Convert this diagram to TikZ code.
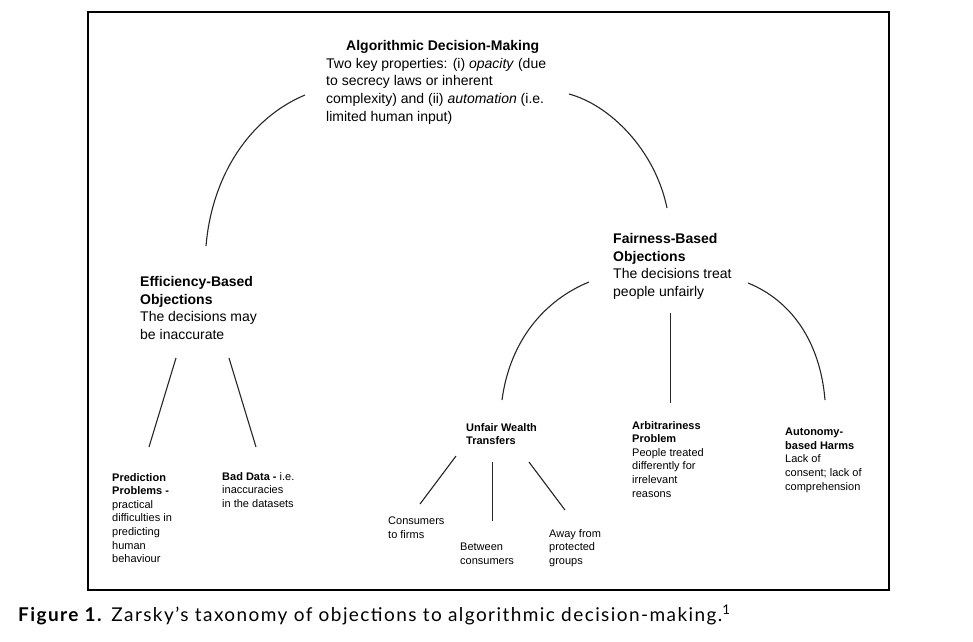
\documentclass[tikz,border=0pt]{standalone}
\usepackage{fontspec}
\setmainfont{Liberation Sans}
\newfontfamily\capfont{Lato}[LetterSpace=7.5]
\begin{document}
\begin{tikzpicture}[x=1pt,y=-1pt,
  big/.style={font=\fontsize{14}{17.7}\selectfont, align=left, anchor=north west, inner sep=0pt},
  small/.style={font=\fontsize{11}{13.6}\selectfont, align=left, anchor=north west, inner sep=0pt},
  conn/.style={line width=1.1pt, black!85}]
\useasboundingbox (0,0) rectangle (973,641);
\draw[line width=1.8pt] (88,12) rectangle (889,590);

\node[big] (adm) at (326,40) {\hspace*{20pt}\textbf{Algorithmic Decision-Making}\\Two key properties: (i) \textit{opacity} (due\\to secrecy laws or inherent\\complexity) and (ii) \textit{automation} (i.e.\\limited human input)};
\node[big] (eff) at (140,276) {\textbf{Efficiency-Based}\\\textbf{Objections}\\The decisions may\\be inaccurate};
\node[big] (fair) at (613,233) {\textbf{Fairness-Based}\\\textbf{Objections}\\The decisions treat\\people unfairly};

\node[small] (pred) at (112,473) {\textbf{Prediction}\\\textbf{Problems -}\\practical\\difficulties in\\predicting\\human\\behaviour};
\node[small] (bad) at (222,472) {\textbf{Bad Data -} i.e.\\inaccuracies\\in the datasets};
\node[small] (uwt) at (466,423) {\textbf{Unfair Wealth}\\\textbf{Transfers}};
\node[small] (ctf) at (388,517) {Consumers\\to firms};
\node[small] (btw) at (460,543) {Between\\consumers};
\node[small] (away) at (549,529) {Away from\\protected\\groups};
\node[small] (arb) at (632,421) {\textbf{Arbitrariness}\\\textbf{Problem}\\People treated\\differently for\\irrelevant\\reasons};
\node[small] (aut) at (785,428) {\textbf{Autonomy-}\\\textbf{based Harms}\\Lack of\\consent; lack of\\comprehension};

% connector end points
\coordinate (a1) at (305,95);   \coordinate (e1) at (206,246);
\coordinate (a2) at (569,94);   \coordinate (f1) at (667,208);
\coordinate (f2) at (589,282);  \coordinate (u1) at (502,400);
\coordinate (f3) at (670.5,313);  \coordinate (r1) at (670.5,403);
\coordinate (f4) at (748,283);  \coordinate (t1) at (825,400);
\coordinate (e2) at (176,358);  \coordinate (p1) at (149,447);
\coordinate (e3) at (229,358);  \coordinate (b1) at (256,447);
\coordinate (u2) at (456,456);  \coordinate (c1) at (420,504);
\coordinate (u3) at (492.5,462);  \coordinate (c2) at (492.5,521);
\coordinate (u4) at (529,462);  \coordinate (c3) at (565,510);

\draw[conn] (a1) .. controls (250,118) and (212,175) .. (e1);
\draw[conn] (a2) .. controls (610,105) and (655,150) .. (f1);
\draw[conn] (f2) .. controls (545,300) and (510,340) .. (u1);
\draw[conn] (f3) -- (r1);
\draw[conn] (f4) .. controls (790,300) and (820,340) .. (t1);
\draw[conn] (e2) -- (p1);
\draw[conn] (e3) -- (b1);
\draw[conn] (u2) -- (c1);
\draw[conn] (u3) -- (c2);
\draw[conn] (u4) -- (c3);

\node[anchor=base west, inner sep=0pt, font=\capfont\fontsize{19}{22}\selectfont] (cap) at (18,621) {\textbf{Figure 1.} Zarsky’s taxonomy of objections to algorithmic decision-making.\textsuperscript{1}};
\end{tikzpicture}
\end{document}
